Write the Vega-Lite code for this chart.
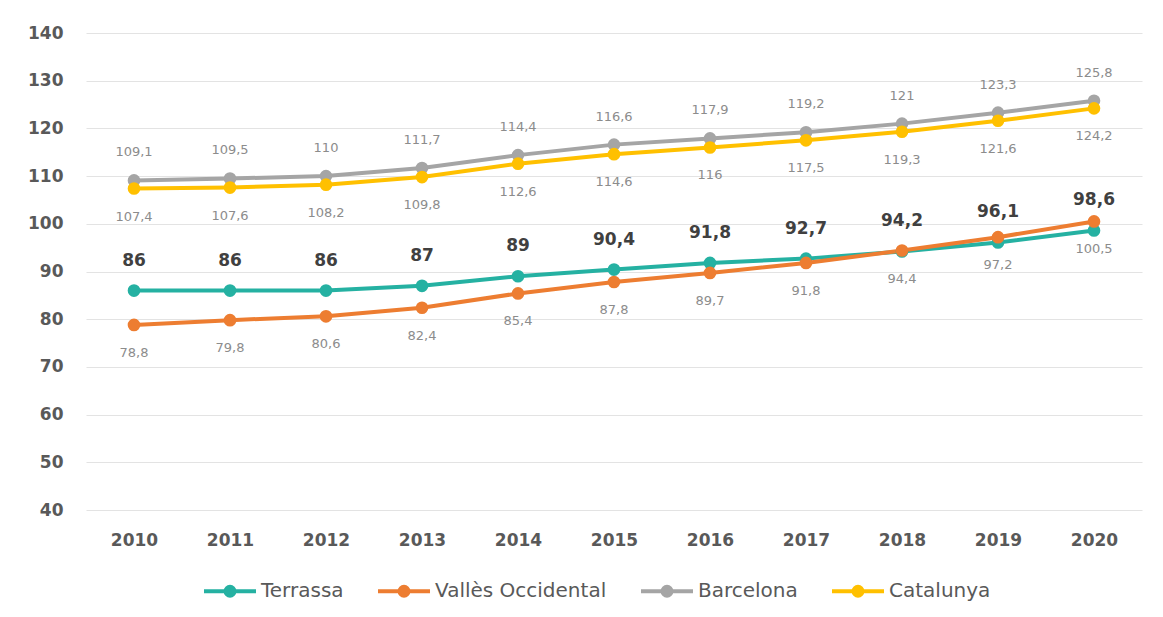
{
  "$schema": "https://vega.github.io/schema/vega-lite/v6.json",
  "width": 1056,
  "height": 477,
  "padding": {"left": 0, "top": 24, "right": 21, "bottom": 0},
  "autosize": {"type": "pad"},
  "background": "white",
  "config": {
    "locale": {"number": {"decimal": ",", "thousands": ".", "grouping": [3], "currency": ["", " €"]}},
    "view": {"stroke": null},
    "axis": {"labelFont": "DejaVu Sans", "labelFontWeight": "bold", "labelColor": "#595959", "labelFontSize": 17, "domain": false, "ticks": false, "title": null}
  },
  "data": {"values": [
    {"year": "2010", "serie": "Terrassa", "value": 86},
    {"year": "2011", "serie": "Terrassa", "value": 86},
    {"year": "2012", "serie": "Terrassa", "value": 86},
    {"year": "2013", "serie": "Terrassa", "value": 87},
    {"year": "2014", "serie": "Terrassa", "value": 89},
    {"year": "2015", "serie": "Terrassa", "value": 90.4},
    {"year": "2016", "serie": "Terrassa", "value": 91.8},
    {"year": "2017", "serie": "Terrassa", "value": 92.7},
    {"year": "2018", "serie": "Terrassa", "value": 94.2},
    {"year": "2019", "serie": "Terrassa", "value": 96.1},
    {"year": "2020", "serie": "Terrassa", "value": 98.6},
    {"year": "2010", "serie": "Vallès Occidental", "value": 78.8},
    {"year": "2011", "serie": "Vallès Occidental", "value": 79.8},
    {"year": "2012", "serie": "Vallès Occidental", "value": 80.6},
    {"year": "2013", "serie": "Vallès Occidental", "value": 82.4},
    {"year": "2014", "serie": "Vallès Occidental", "value": 85.4},
    {"year": "2015", "serie": "Vallès Occidental", "value": 87.8},
    {"year": "2016", "serie": "Vallès Occidental", "value": 89.7},
    {"year": "2017", "serie": "Vallès Occidental", "value": 91.8},
    {"year": "2018", "serie": "Vallès Occidental", "value": 94.4},
    {"year": "2019", "serie": "Vallès Occidental", "value": 97.2},
    {"year": "2020", "serie": "Vallès Occidental", "value": 100.5},
    {"year": "2010", "serie": "Barcelona", "value": 109.1},
    {"year": "2011", "serie": "Barcelona", "value": 109.5},
    {"year": "2012", "serie": "Barcelona", "value": 110},
    {"year": "2013", "serie": "Barcelona", "value": 111.7},
    {"year": "2014", "serie": "Barcelona", "value": 114.4},
    {"year": "2015", "serie": "Barcelona", "value": 116.6},
    {"year": "2016", "serie": "Barcelona", "value": 117.9},
    {"year": "2017", "serie": "Barcelona", "value": 119.2},
    {"year": "2018", "serie": "Barcelona", "value": 121},
    {"year": "2019", "serie": "Barcelona", "value": 123.3},
    {"year": "2020", "serie": "Barcelona", "value": 125.8},
    {"year": "2010", "serie": "Catalunya", "value": 107.4},
    {"year": "2011", "serie": "Catalunya", "value": 107.6},
    {"year": "2012", "serie": "Catalunya", "value": 108.2},
    {"year": "2013", "serie": "Catalunya", "value": 109.8},
    {"year": "2014", "serie": "Catalunya", "value": 112.6},
    {"year": "2015", "serie": "Catalunya", "value": 114.6},
    {"year": "2016", "serie": "Catalunya", "value": 116},
    {"year": "2017", "serie": "Catalunya", "value": 117.5},
    {"year": "2018", "serie": "Catalunya", "value": 119.3},
    {"year": "2019", "serie": "Catalunya", "value": 121.6},
    {"year": "2020", "serie": "Catalunya", "value": 124.2}
  ]},
  "encoding": {
    "x": {"field": "year", "type": "ordinal", "scale": {"type": "point", "padding": 0.5},
      "axis": {"labelAngle": 0, "labelPadding": 22, "grid": false}},
    "y": {"field": "value", "type": "quantitative", "scale": {"domain": [40, 140], "nice": false, "zero": false},
      "axis": {"values": [40, 50, 60, 70, 80, 90, 100, 110, 120, 130, 140], "labelPadding": 23, "minExtent": 86, "maxExtent": 86, "gridColor": "#e3e3e3", "gridWidth": 1}}
  },
  "layer": [
    {
      "mark": {"type": "line", "strokeWidth": 4},
      "encoding": {
        "color": {"field": "serie", "type": "nominal",
          "scale": {"domain": ["Terrassa", "Vallès Occidental", "Barcelona", "Catalunya"], "range": ["#25B1A2", "#ED7D31", "#A5A5A5", "#FFC000"]},
          "legend": {"orient": "none", "legendX": 116, "legendY": 530, "direction": "horizontal", "title": null,
            "symbolType": "M-1,0H1M-0.17,0A0.17,0.17 0 1,1 0.17,0A0.17,0.17 0 1,1 -0.17,0Z",
            "symbolSize": 2704, "symbolStrokeWidth": 4,
            "labelFont": "DejaVu Sans", "labelFontSize": 20, "labelColor": "#595959", "labelLimit": 400,
            "columnPadding": 26, "labelOffset": 3,
            "encode": {"symbols": {"update": {"fill": {"scale": "color", "field": "value"}, "stroke": {"scale": "color", "field": "value"}, "opacity": {"value": 1}}}}}
        }
      }
    },
    {
      "mark": {"type": "point", "filled": true, "size": 160, "opacity": 1},
      "encoding": {"color": {"field": "serie", "type": "nominal", "legend": null}}
    },
    {
      "transform": [{"filter": "datum.serie === 'Terrassa'"}],
      "mark": {"type": "text", "dy": -30, "font": "DejaVu Sans", "fontWeight": "bold", "fontSize": 17, "color": "#404040"},
      "encoding": {"text": {"field": "value", "type": "quantitative", "format": ".1~f"}}
    },
    {
      "transform": [{"filter": "datum.serie === 'Barcelona'"}],
      "mark": {"type": "text", "dy": -28, "font": "DejaVu Sans", "fontSize": 13, "color": "#8c8c8c"},
      "encoding": {"text": {"field": "value", "type": "quantitative", "format": ".1~f"}}
    },
    {
      "transform": [{"filter": "datum.serie === 'Catalunya' || datum.serie === 'Vallès Occidental'"}],
      "mark": {"type": "text", "dy": 28, "font": "DejaVu Sans", "fontSize": 13, "color": "#8c8c8c"},
      "encoding": {"text": {"field": "value", "type": "quantitative", "format": ".1~f"}}
    }
  ]
}
